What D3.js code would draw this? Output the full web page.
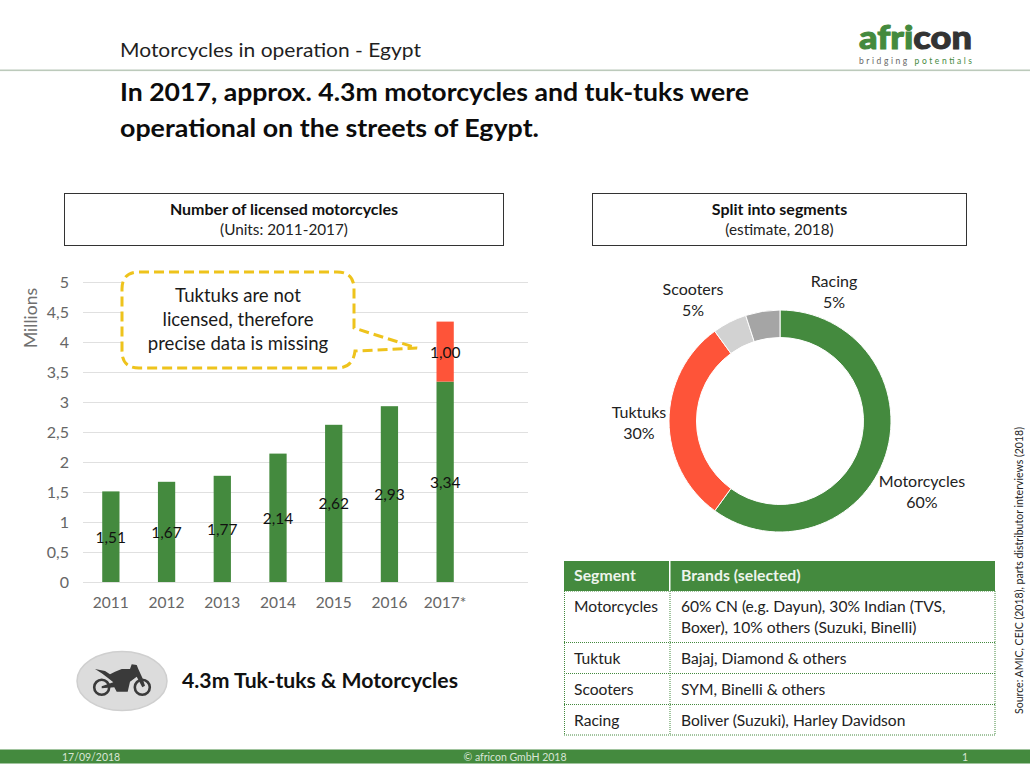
<!DOCTYPE html>
<html><head><meta charset="utf-8">
<script src="https://cdn.jsdelivr.net/npm/d3@7/dist/d3.min.js"></script>
<style>html,body{margin:0;padding:0;background:#fff}svg{display:block}text{font-family:Lato,"Open Sans",sans-serif}</style>
</head><body><div id="c"></div>
<script>
const years = ["2011","2012","2013","2014","2015","2016","2017*"];
const licensed = [1.51,1.67,1.77,2.14,2.62,2.93,3.34];
const tuktuks = [0,0,0,0,0,0,1.00];
const yTicks = [0,0.5,1,1.5,2,2.5,3,3.5,4,4.5,5];
const segments = ["Motorcycles","Tuktuks","Scooters","Racing"];
const shares = [60,30,5,5];
const segmentColors = ["#448a3e","#fe5439","#d2d2d2","#a5a5a5"];
const tableHead = ["Segment","Brands (selected)"];
const tableSeg = ["Motorcycles","Tuktuk","Scooters","Racing"];
const tableBrands = [["60% CN (e.g. Dayun), 30% Indian (TVS,","Boxer), 10% others (Suzuki, Binelli)"],["Bajaj, Diamond & others"],["SYM, Binelli & others"],["Boliver (Suzuki), Harley Davidson"]];

const GREEN="#448a3e", DARK="#1f1f1f";
const svg=d3.select("#c").append("svg").attr("width",1030).attr("height",773);
const T=(x,y,s,o={})=>{const t=svg.append("text").attr("x",x).attr("y",y).text(s)
  .attr("font-size",o.size||14).attr("fill",o.fill||DARK).attr("text-anchor",o.anchor||"start");
  if(o.bold)t.attr("font-weight",700); if(o.w)t.attr("textLength",o.w).attr("lengthAdjust","spacingAndGlyphs"); return t;};

// header
svg.append("rect").attr("x",0).attr("y",69.5).attr("width",1030).attr("height",1.6).attr("fill","#bccabb");
T(120,57,"Motorcycles in operation - Egypt",{size:20,w:301});
T(120,101,"In 2017, approx. 4.3m motorcycles and tuk-tuks were",{size:25.5,bold:true,fill:"#0c0c0c",w:629});
T(120,137,"operational on the streets of Egypt.",{size:25.5,bold:true,fill:"#0c0c0c",w:419});

// logo
const lg=svg.append("text").attr("x",859).attr("y",48.5).attr("font-size",33).attr("font-weight",900).attr("stroke-width",1).attr("textLength",113).attr("lengthAdjust","spacingAndGlyphs");
lg.append("tspan").attr("fill",GREEN).attr("stroke",GREEN).text("afri");
lg.append("tspan").attr("fill","#333333").attr("stroke","#333333").text("con");
const lg2=svg.append("text").attr("x",859).attr("y",63.5).attr("font-size",8.5).attr("textLength",113);
lg2.append("tspan").attr("fill","#666").text("bridging ");
lg2.append("tspan").attr("fill",GREEN).text("potentials");

// title boxes
[[64.5,439,"Number of licensed motorcycles","(Units: 2011-2017)"],[592.5,374,"Split into segments","(estimate, 2018)"]].forEach(([x,w,a,b])=>{
  svg.append("rect").attr("x",x).attr("y",193.5).attr("width",w).attr("height",52).attr("fill","#fff").attr("stroke","#333").attr("stroke-width",1);
  T(x+w/2,214.5,a,{size:16,bold:true,anchor:"middle",fill:"#111"});
  T(x+w/2,235,b,{size:15.3,anchor:"middle",fill:"#222"});
});

// bar chart
const x=d3.scaleBand().domain(years).range([83,473]).paddingInner(0.69).paddingOuter(0.345);
const y=d3.scaleLinear().domain([0,5]).range([582,282]);
const fmt=v=>v.toFixed(2).replace(".",",");
const fmtT=v=>String(v).replace(".",",");
const gA=svg.append("g").attr("transform","translate(83,0)")
 .call(d3.axisLeft(y).tickValues(yTicks).tickSize(-445).tickFormat(fmtT));
gA.select(".domain").remove();
gA.selectAll(".tick line").attr("stroke","#e0e0e0").attr("stroke-width",1.2);
gA.selectAll(".tick text").attr("x",-14).attr("font-size",16).attr("fill","#666");
const gX=svg.append("g").attr("transform","translate(0,582)").call(d3.axisBottom(x).tickSize(0).tickPadding(15));
gX.select(".domain").remove();
gX.selectAll(".tick text").attr("font-size",15.5).attr("fill","#666");
svg.append("text").attr("transform","translate(37,318) rotate(-90)").attr("text-anchor","middle").attr("font-size",17.5).attr("fill","#707070").text("Millions");

svg.append("g").selectAll("rect").data(years).join("rect")
 .attr("x",d=>x(d)).attr("width",x.bandwidth()).attr("y",(d,i)=>y(licensed[i])).attr("height",(d,i)=>y(0)-y(licensed[i])).attr("fill",GREEN);
svg.append("g").selectAll("rect").data(years.filter((d,i)=>tuktuks[i]>0)).join("rect")
 .attr("x",d=>x(d)).attr("width",x.bandwidth())
 .attr("y",d=>{const i=years.indexOf(d);return y(licensed[i]+tuktuks[i]);})
 .attr("height",d=>{const i=years.indexOf(d);return y(licensed[i])-y(licensed[i]+tuktuks[i]);}).attr("fill","#fe5439");

// callout
const cw=[122,354,272,368], r=17;
const tip=[417,348];
const pth=`M${cw[0]+r},${cw[2]}H${cw[1]-r}Q${cw[1]},${cw[2]} ${cw[1]},${cw[2]+r}V328L${tip[0]},${tip[1]}L${cw[1]+1},351Q${cw[1]-1},${cw[3]} ${cw[1]-r},${cw[3]}H${cw[0]+r}Q${cw[0]},${cw[3]} ${cw[0]},${cw[3]-r}V${cw[2]+r}Q${cw[0]},${cw[2]} ${cw[0]+r},${cw[2]}Z`;
svg.append("path").attr("d",pth).attr("fill","#fff").attr("stroke","#eec31c").attr("stroke-width",3).attr("stroke-dasharray","10 5");
["Tuktuks are not","licensed, therefore","precise data is missing"].forEach((s,i)=>T(238,302+i*24,s,{size:18.6,anchor:"middle",fill:"#1a1a1a"}));

// bar labels
svg.append("g").selectAll("text").data(years).join("text")
 .attr("x",d=>x(d)+x.bandwidth()/2).attr("y",(d,i)=>y(licensed[i]/2)+6).attr("text-anchor","middle").attr("font-size",15.5).attr("fill","#111")
 .text((d,i)=>fmt(licensed[i]));
svg.append("g").selectAll("text").data(years.filter((d,i)=>tuktuks[i]>0)).join("text")
 .attr("x",d=>x(d)+x.bandwidth()/2)
 .attr("y",d=>{const i=years.indexOf(d);return y(licensed[i]+tuktuks[i]/2)+6;}).attr("text-anchor","middle").attr("font-size",15.5).attr("fill","#111")
 .text(d=>fmt(tuktuks[years.indexOf(d)]));

// motorbike badge
const bx=122,by=681;
svg.append("ellipse").attr("cx",bx).attr("cy",by).attr("rx",45).attr("ry",29.5).attr("fill","#dcdcdc").attr("stroke","#cfcfcf").attr("stroke-width",1.5);
const ic=svg.append("g").attr("transform",`translate(${bx},${by})`);
[[-20.3,6.3],[20.3,6.3]].forEach(([cx,cy])=>ic.append("circle").attr("cx",cx).attr("cy",cy).attr("r",7.5).attr("fill","none").attr("stroke","#3a3a3a").attr("stroke-width",2.6));
ic.append("path").attr("fill","#3a3a3a").attr("d","M-27,-12L-17,-10L-12,-6.7L-7,-9.3L-.3,-12L8,-12L9.7,-16.7L14.7,-16L16.3,-12L20.3,-3.3L23,4.7L20.3,6.3L14.7,-4.3L8,.7L5.7,10.7L-5.3,10.7L-7.7,6.3L-20.3,7.3L-20.3,5.3L-8.7,1.3L-13.7,-2.7L-20.3,-7.7Z");
T(182,688,"4.3m Tuk-tuks & Motorcycles",{size:20.5,bold:true,fill:"#111",w:276});

// donut
const pie=d3.pie().sort(null)(shares);
const arc=d3.arc().innerRadius(83.5).outerRadius(111);
const gD=svg.append("g").attr("transform","translate(780,421)");
gD.selectAll("path").data(pie).join("path").attr("d",arc).attr("fill",(d,i)=>segmentColors[i]).attr("stroke","#fff").attr("stroke-width",1);
const labelPos=[[922,487],[639,418],[693,295],[834,287]];
segments.forEach((s,i)=>{
  T(labelPos[i][0],labelPos[i][1],s,{size:16,anchor:"middle",fill:"#222"});
  T(labelPos[i][0],labelPos[i][1]+21,shares[i]+"%",{size:16,anchor:"middle",fill:"#222"});
});

// table
const rowY=[591,642.5,673.5,704.5,735];
svg.append("rect").attr("x",564).attr("y",561).attr("width",431).attr("height",30).attr("fill",GREEN);
svg.append("rect").attr("x",669).attr("y",561).attr("width",1.5).attr("height",30).attr("fill","#fff");
T(574,581,tableHead[0],{size:15.8,bold:true,fill:"#eef4ec"});
T(681,581,tableHead[1],{size:15.8,bold:true,fill:"#eef4ec"});
const dot=(x1,y1,x2,y2)=>svg.append("line").attr("x1",x1).attr("y1",y1).attr("x2",x2).attr("y2",y2).attr("stroke",GREEN).attr("stroke-width",1).attr("stroke-dasharray","1 1");
rowY.forEach(v=>dot(564,v,995,v));
[564.5,670,995].forEach(v=>dot(v,591,v,735));
tableSeg.forEach((s,i)=>{
  const two=tableBrands[i].length>1, y0=two?612:rowY[i]+21;
  T(574,y0,s,{size:15.6,fill:"#222"});
  tableBrands[i].forEach((b,j)=>T(681,y0+j*21,b,{size:15.6,fill:"#222"}));
});

// source
svg.append("text").attr("transform","translate(1023,714) rotate(-90)").attr("font-size",10.5).attr("fill","#222").attr("textLength",287).attr("lengthAdjust","spacingAndGlyphs").text("Source: AMIC, CEIC (2018), parts distributor interviews (2018)");

// footer
svg.append("rect").attr("x",0).attr("y",749.5).attr("width",1030).attr("height",14).attr("fill",GREEN);
T(62,761,"17/09/2018",{size:10.5,fill:"#d9e6d6"});
T(515,761,"© africon GmbH 2018",{size:10.5,fill:"#d9e6d6",anchor:"middle"});
T(965,761,"1",{size:10.5,fill:"#d9e6d6",anchor:"middle"});
</script></body></html>
